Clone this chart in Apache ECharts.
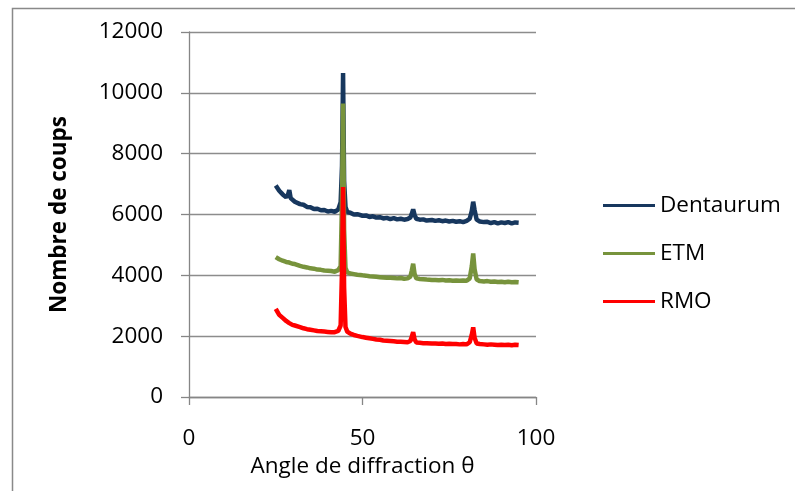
<!DOCTYPE html>
<html>
<head>
<meta charset="utf-8">
<script src="https://cdn.jsdelivr.net/npm/echarts@6/dist/echarts.min.js"></script>
<style>
html,body{margin:0;padding:0;background:#fff;}
#c{width:795px;height:491px;}
</style>
</head>
<body>
<div id="c"></div>
<script>
const seriesNames = ['Dentaurum', 'ETM', 'RMO'];
const xTicks = [0, 50, 100];
const yTicks = [0, 2000, 4000, 6000, 8000, 10000, 12000];
const angles = [25,25.5,26,26.5,27,27.5,28,28.5,28.9,29.3,29.8,30.5,31,32,33,34,35,36,37,38,39,40,41,42,43,43.7,44.1,44.4,44.7,45.1,45.6,46.5,47.5,48.5,50,51,52,53,54,55,56,57,58,59,60,61,62,63,63.8,64.2,64.6,65.0,65.5,66.5,67.5,68.5,70,71,72,73,74,75,76,77,78,79,80,80.9,81.5,81.9,82.3,82.9,83.8,85,86,87,88,89,90,91,92,93,94,95];
const dentaurum = [6950,6890,6780,6750,6660,6640,6570,6640,6800,6540,6500,6420,6430,6340,6320,6250,6240,6180,6190,6140,6150,6100,6120,6090,6160,6400,7600,10650,7100,6250,6080,6060,6000,6010,5960,5970,5920,5940,5900,5910,5870,5890,5850,5880,5840,5860,5830,5850,5900,6020,6170,5990,5860,5830,5840,5800,5820,5790,5810,5780,5800,5770,5790,5760,5780,5750,5790,5860,6120,6420,6150,5830,5770,5750,5760,5720,5750,5710,5740,5720,5750,5710,5740,5730];
const etm = [4600,4560,4530,4510,4480,4470,4440,4450,4420,4400,4380,4370,4340,4310,4280,4260,4230,4220,4190,4180,4160,4150,4140,4120,4170,4300,6500,9650,5500,4250,4100,4060,4040,4020,4000,3990,3970,3960,3950,3940,3930,3920,3920,3910,3900,3910,3890,3900,3960,4150,4380,4050,3900,3880,3870,3860,3850,3850,3840,3850,3830,3840,3820,3830,3820,3830,3820,3900,4300,4720,4200,3860,3810,3800,3810,3790,3800,3780,3790,3770,3790,3770,3780,3770];
const rmo = [2900,2800,2700,2640,2600,2560,2500,2470,2430,2400,2370,2350,2320,2300,2260,2230,2210,2190,2170,2160,2150,2140,2130,2130,2170,2350,4200,6900,3600,2300,2150,2080,2040,2010,1970,1950,1930,1910,1890,1880,1860,1850,1840,1830,1820,1820,1810,1800,1840,1980,2130,1900,1790,1780,1770,1770,1760,1760,1750,1760,1740,1750,1740,1740,1730,1740,1730,1800,2050,2290,1950,1760,1740,1730,1720,1730,1720,1710,1720,1710,1720,1700,1720,1710];
const colors = ['#17375E', '#77933C', '#FF0000'];
const values = [dentaurum, etm, rmo];

const font = '"Open Sans", "Liberation Sans", sans-serif';
const chart = echarts.init(document.getElementById('c'), null, {renderer: 'canvas'});
chart.setOption({
  animation: false,
  backgroundColor: '#ffffff',
  graphic: [{
    type: 'rect', left: 10, top: 6, silent: true, z: -1,
    shape: {width: 800, height: 500},
    style: {fill: 'none', stroke: '#898989', lineWidth: 1.5}
  }],
  grid: {left: 189, right: 259, top: 32, bottom: 94, containLabel: false},
  legend: {
    orient: 'vertical', left: 598, top: 189,
    itemWidth: 52, itemHeight: 3, itemGap: 25,
    icon: 'rect',
    textStyle: {fontFamily: font, fontSize: 22.5, color: '#000'},
    data: seriesNames
  },
  xAxis: {
    type: 'value', min: xTicks[0], max: xTicks[xTicks.length - 1], interval: xTicks[1] - xTicks[0],
    name: 'Angle de diffraction θ', nameLocation: 'middle', nameGap: 58,
    nameTextStyle: {fontFamily: font, fontSize: 22.5, color: '#000'},
    axisLine: {show: true, lineStyle: {color: '#868686', width: 1.3}},
    axisTick: {show: true, length: 8, inside: false, lineStyle: {color: '#868686', width: 1.3}},
    axisLabel: {fontFamily: font, fontSize: 22.5, color: '#000', margin: 30, formatter: v => String(v)},
    splitLine: {show: false}
  },
  yAxis: {
    type: 'value', min: yTicks[0], max: yTicks[yTicks.length - 1], interval: yTicks[1] - yTicks[0],
    name: 'Nombre de coups', nameLocation: 'middle', nameGap: 118, nameRotate: 90,
    nameTextStyle: {fontFamily: font, fontSize: 22.5, fontWeight: 'bold', color: '#000'},
    axisLine: {show: true, lineStyle: {color: '#868686', width: 1.3}},
    axisTick: {show: true, length: 8, inside: false, lineStyle: {color: '#868686', width: 1.3}},
    axisLabel: {fontFamily: font, fontSize: 22.5, color: '#000', margin: 26, formatter: v => String(v)},
    splitLine: {show: true, lineStyle: {color: '#8c8c8c', width: 1.3}}
  },
  series: seriesNames.map((n, i) => ({
    name: n, type: 'line', showSymbol: false, symbol: 'none',
    color: colors[i],
    lineStyle: {color: colors[i], width: 4.5},
    data: angles.map((a, j) => [a, values[i][j]])
  }))
});
</script>
</body>
</html>
